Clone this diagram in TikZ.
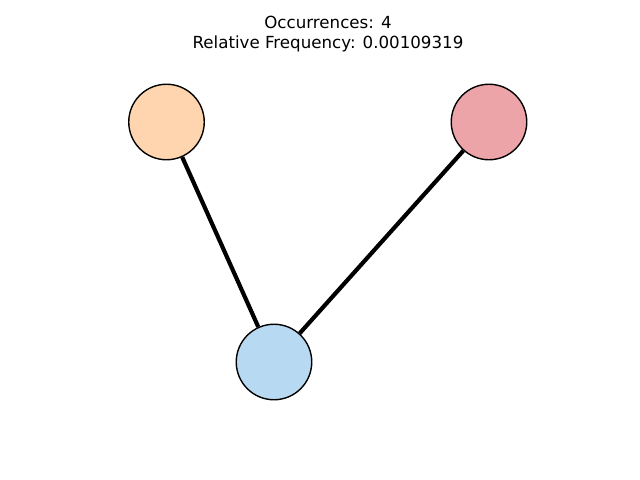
\documentclass[tikz,border=0pt]{standalone}
\usepackage{fontspec}
\setmainfont{DejaVu Sans}
\definecolor{peach}{HTML}{FFD5B0}
\definecolor{rose}{HTML}{EDA4A9}
\definecolor{sky}{HTML}{B8D9F2}
\begin{document}
\begin{tikzpicture}[x=0.72pt,y=-0.72pt,
  vertex/.style={circle,draw=black,line width=1pt,minimum size=75.5*0.72pt,inner sep=0pt},
  link/.style={line width=3pt,black},
  caption/.style={font=\fontsize{12pt}{14.4pt}\selectfont,align=center,inner sep=0pt}]
  \useasboundingbox (0,0) rectangle (640,480);
  % title
  \node[caption,anchor=base] (t1) at (328,28) {Occurrences: 4};
  \node[caption,anchor=base] (t2) at (328,48.5) {Relative Frequency: 0.00109319};
  % vertices
  \node[vertex,fill=peach] (a) at (166.5,122) {};
  \node[vertex,fill=rose]  (b) at (489,122) {};
  \node[vertex,fill=sky]   (c) at (274,362) {};
  % edges, ending at the vertex borders
  \draw[link] (a) -- (c);
  \draw[link] (b) -- (c);
\end{tikzpicture}
\end{document}
